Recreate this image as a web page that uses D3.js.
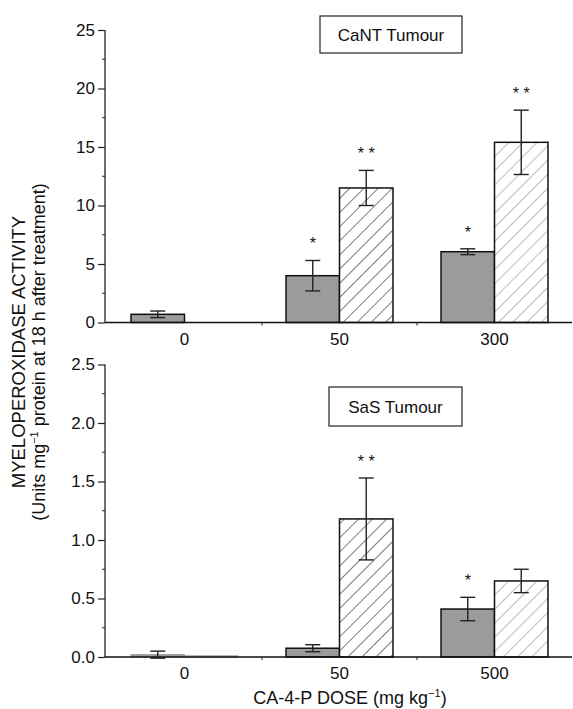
<!DOCTYPE html>
<html><head><meta charset="utf-8">
<script src="https://cdn.jsdelivr.net/npm/d3@7"></script>
<style>body{margin:0;background:#fff}svg{display:block;font-family:"Liberation Sans",Arial,sans-serif}</style>
</head><body><svg id="c" width="573" height="709"></svg>
<script>
// ---- data ----
const topDoses = ["0", "50", "300"];
const topGrey = [0.7, 4.0, 6.05];
const topGreyErr = [0.28, 1.3, 0.25];
const topHatch = [0, 11.5, 15.4];
const topHatchErr = [0, 1.5, 2.75];
const topGreyStars = ["", "*", "*"];
const topHatchStars = ["", "* *", "* *"];
const topTicks = [0, 5, 10, 15, 20, 25];

const botDoses = ["0", "50", "500"];
const botGrey = [0.02, 0.075, 0.41];
const botGreyErr = [0.03, 0.03, 0.1];
const botHatch = [0.01, 1.18, 0.65];
const botHatchErr = [0, 0.35, 0.1];
const botGreyStars = ["", "", "*"];
const botHatchStars = ["", "* *", ""];
const botTicks = [0, 0.5, 1.0, 1.5, 2.0, 2.5];

const svg = d3.select("#c");
const defs = svg.append("defs");
function hatch(id, color, w) {
  const p = defs.append("pattern").attr("id", id).attr("patternUnits", "userSpaceOnUse")
    .attr("width", 10).attr("height", 10).attr("patternTransform", "rotate(45)");
  p.append("rect").attr("width", 10).attr("height", 10).attr("fill", "#fff");
  p.append("line").attr("x1", 0).attr("y1", 0).attr("x2", 0).attr("y2", 10)
    .attr("stroke", color).attr("stroke-width", w);
}
hatch("h1", "#111", 1.1);
hatch("h2", "#666", 0.9);

function panel(cfg) {
  const g = svg.append("g");
  const x = d3.scaleBand().domain(cfg.doses).range([107, 572]).padding(0);
  const sub = d3.scaleBand().domain(["g", "h"]).range([0, x.bandwidth()]).paddingInner(0).paddingOuter(0.449);
  const y = d3.scaleLinear().domain([0, cfg.max]).range([cfg.y0, cfg.y1]);

  // y axis
  const ya = d3.axisLeft(y).tickValues(cfg.ticks).tickSize(7).tickPadding(3).tickFormat(cfg.fmt);
  const ag = g.append("g").attr("transform", "translate(105,0)").call(ya);
  ag.select(".domain").attr("d", `M-0,${cfg.y1}V${cfg.y0}`).attr("stroke", "#222").attr("stroke-width", 1.3);
  ag.selectAll(".tick line").attr("stroke", "#222").attr("stroke-width", 1.2);
  ag.selectAll(".tick text").attr("font-size", 17).attr("fill", "#111").attr("font-family", "Liberation Sans, Arial, sans-serif");
  const minor = d3.range(cfg.ticks.length - 1).map(i => (cfg.ticks[i] + cfg.ticks[i + 1]) / 2);
  ag.selectAll(".minor").data(minor).join("line").attr("x1", -3).attr("x2", 0)
    .attr("y1", d => y(d)).attr("y2", d => y(d)).attr("stroke", "#222");

  // bars
  const bars = [];
  cfg.doses.forEach((d, i) => {
    bars.push({d, k: "g", v: cfg.grey[i], e: cfg.greyErr[i], s: cfg.greyStars[i], i});
    bars.push({d, k: "h", v: cfg.hatch[i], e: cfg.hatchErr[i], s: cfg.hatchStars[i], i});
  });
  g.selectAll(".bar").data(bars.filter(b => b.v > 0)).join("rect")
    .attr("x", b => x(b.d) + sub(b.k))
    .attr("y", b => y(b.v))
    .attr("width", sub.bandwidth())
    .attr("height", b => y(0) - y(b.v))
    .attr("fill", b => b.k === "g" ? "#9b9b9b" : (b.i === 2 ? "url(#h2)" : "url(#h1)"))
    .attr("stroke", b => (y(0) - y(b.v)) < 3 ? "#999" : "#111")
    .attr("stroke-width", b => (y(0) - y(b.v)) < 3 ? 1 : 1.5);

  // error bars
  const eb = bars.filter(b => b.e > 0);
  const cx = b => x(b.d) + sub(b.k) + sub.bandwidth() / 2;
  g.selectAll(".ev").data(eb).join("line")
    .attr("x1", cx).attr("x2", cx)
    .attr("y1", b => y(b.v + b.e)).attr("y2", b => y(Math.max(0, b.v - b.e)))
    .attr("stroke", "#222").attr("stroke-width", 1.4);
  [1, -1].forEach(sg => {
    g.selectAll(".ec" + sg).data(eb.filter(b => b.v - sg * b.e > 0 || sg === 1)).join("line")
      .attr("x1", b => cx(b) - 7.5).attr("x2", b => cx(b) + 7.5)
      .attr("y1", b => y(b.v + sg * b.e)).attr("y2", b => y(b.v + sg * b.e))
      .attr("stroke", "#222").attr("stroke-width", 1.4);
  });

  // stars
  g.selectAll(".st").data(bars.filter(b => b.s)).join("text")
    .attr("x", cx).attr("y", b => y(b.v + b.e) - 11)
    .attr("text-anchor", "middle").attr("font-size", 16).attr("fill", "#111")
    .text(b => b.s);

  // x axis
  g.append("line").attr("x1", 105).attr("x2", 572).attr("y1", y(0)).attr("y2", y(0))
    .attr("stroke", "#111").attr("stroke-width", 1.5);
  g.selectAll(".xt").data(cfg.doses.slice(1)).join("line")
    .attr("x1", d => x(d)).attr("x2", d => x(d)).attr("y1", y(0)).attr("y2", y(0) + 3)
    .attr("stroke", "#222");
  g.selectAll(".xl").data(cfg.doses).join("text")
    .attr("x", d => x(d) + x.bandwidth() / 2).attr("y", y(0) + 22)
    .attr("text-anchor", "middle").attr("font-size", 17).attr("fill", "#111").text(d => d);

  // legend box
  g.append("rect").attr("x", cfg.box[0]).attr("y", cfg.box[1]).attr("width", cfg.box[2]).attr("height", cfg.box[3])
    .attr("fill", "#fff").attr("stroke", "#222").attr("stroke-width", 1.2);
  g.append("text").attr("x", cfg.box[0] + cfg.box[2] / 2).attr("y", cfg.box[1] + cfg.box[3] / 2 + 6)
    .attr("text-anchor", "middle").attr("font-size", 17).attr("fill", "#111").text(cfg.title);
}

panel({doses: topDoses, grey: topGrey, greyErr: topGreyErr, hatch: topHatch, hatchErr: topHatchErr,
  greyStars: topGreyStars, hatchStars: topHatchStars, ticks: topTicks, max: 25, y0: 322.5, y1: 30,
  fmt: d3.format("d"), box: [320, 16, 142, 37], title: "CaNT Tumour"});
panel({doses: botDoses, grey: botGrey, greyErr: botGreyErr, hatch: botHatch, hatchErr: botHatchErr,
  greyStars: botGreyStars, hatchStars: botHatchStars, ticks: botTicks, max: 2.5, y0: 657, y1: 364.5,
  fmt: d3.format(".1f"), box: [329, 387, 133, 39], title: "SaS Tumour"});

// y title
const yt = svg.append("text").attr("transform", "translate(24.5,352) rotate(-90)")
  .attr("text-anchor", "middle").attr("font-size", 18.5).attr("fill", "#111");
yt.append("tspan").attr("x", 0).attr("dy", 0).text("MYELOPEROXIDASE ACTIVITY");
const l2 = svg.append("text").attr("transform", "translate(44.5,352) rotate(-90)")
  .attr("text-anchor", "middle").attr("font-size", 18).attr("fill", "#111");
l2.append("tspan").text("(Units mg");
l2.append("tspan").attr("font-size", 11).attr("dy", -7).text("−1");
l2.append("tspan").attr("dy", 7).text(" protein at 18 h after treatment)");

// x title
const xt = svg.append("text").attr("x", 350).attr("y", 704).attr("text-anchor", "middle")
  .attr("font-size", 18).attr("fill", "#111");
xt.append("tspan").text("CA-4-P DOSE (mg kg");
xt.append("tspan").attr("font-size", 11).attr("dy", -7).text("−1");
xt.append("tspan").attr("dy", 7).text(")");
</script></body></html>
